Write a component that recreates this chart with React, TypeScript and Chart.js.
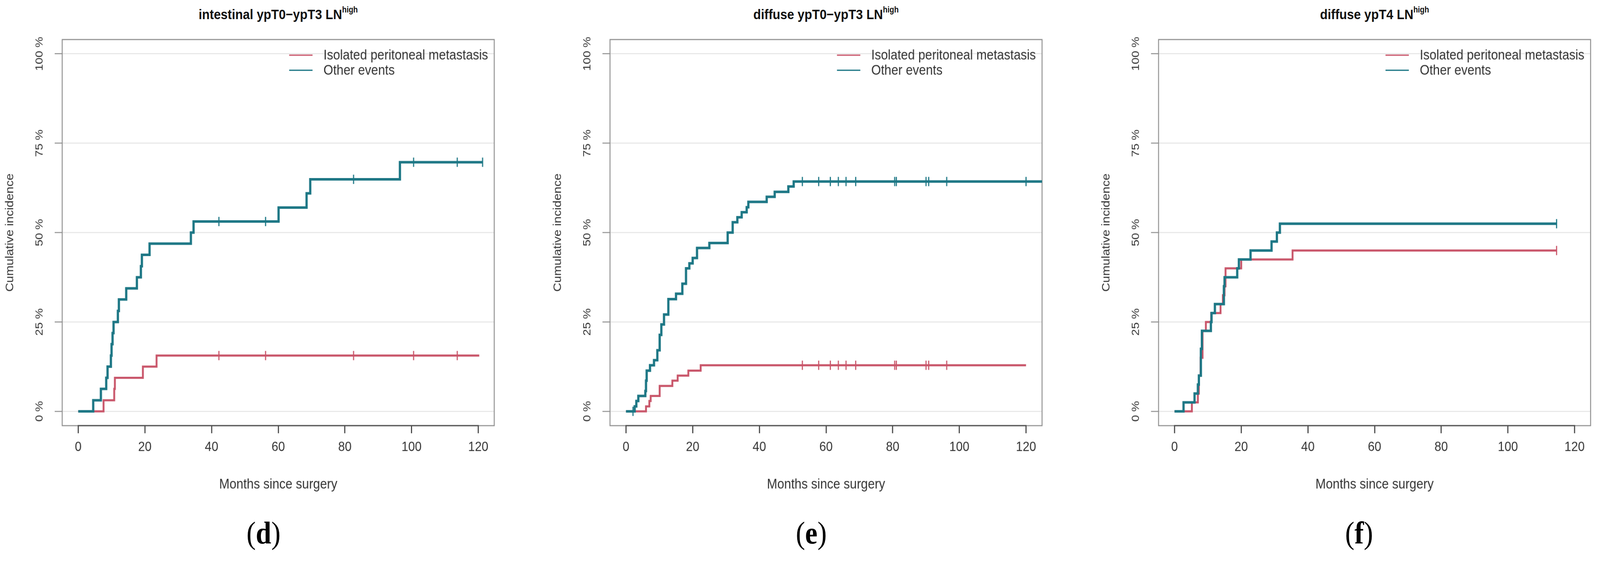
import React, { useEffect, useRef } from "react";
import { Chart, registerables } from "chart.js";

Chart.register(...registerables);

const FONT = '"Liberation Sans", Arial, sans-serif';
const RED = "#C9566A";
const TEAL = "#1D7785";

// axis + labels
const xTicks = [0, 20, 40, 60, 80, 100, 120];
const yTicks = [0, 25, 50, 75, 100];
const seriesNames = ["Isolated peritoneal metastasis", "Other events"];
const panelTitles = ["intestinal ypT0\u2212ypT3 LN", "diffuse ypT0\u2212ypT3 LN", "diffuse ypT4 LN"];
const panelTags = ["d", "e", "f"];
const xTitle = "Months since surgery";
const yTitle = "Cumulative incidence";

// (d) intestinal ypT0-ypT3 LNhigh
const dIpmTimes = [0, 7.6, 10.8, 11.0, 19.4, 23.5, 120.3];
const dIpmValues = [0, 3.1, 6.3, 9.4, 12.5, 15.6, 15.6];
const dIpmCensor = [42.2, 56.2, 82.6, 100.6, 113.7];
const dOtherTimes = [0, 4.5, 6.8, 8.4, 8.8, 9.8, 10.0, 10.3, 10.6, 11.9, 12.2, 14.4, 17.6, 18.8, 19.1, 21.4, 33.8, 34.6, 60.1, 68.5, 69.6, 96.5, 121.3];
const dOtherValues = [0, 3.1, 6.3, 9.4, 12.5, 15.6, 18.8, 21.9, 25.0, 28.1, 31.3, 34.4, 37.5, 40.6, 43.8, 46.9, 50.0, 53.1, 57.0, 61.0, 64.9, 69.7, 69.7];
const dOtherCensor = [42.2, 56.2, 82.6, 100.6, 113.7, 121.3];

// (e) diffuse ypT0-ypT3 LNhigh
const eIpmTimes = [0, 6.0, 7.0, 7.4, 10.1, 13.9, 15.5, 18.7, 22.4, 120];
const eIpmValues = [0, 1.4, 2.9, 4.3, 7.1, 8.6, 10.0, 11.4, 12.9, 12.9];
const eIpmCensor = [52.9, 57.8, 61.3, 63.7, 66.0, 68.9, 80.6, 81.1, 90.0, 90.8, 96.2];
const eOtherTimes = [0, 2.6, 3.1, 3.7, 5.8, 6.0, 6.2, 7.2, 8.4, 9.4, 10.1, 10.6, 11.4, 12.7, 15.0, 16.9, 18.0, 19.0, 20.0, 21.3, 25.0, 30.5, 32.0, 33.4, 34.7, 36.2, 36.7, 42.2, 44.6, 48.7, 50.3, 124.8];
const eOtherValues = [0, 1.4, 2.9, 4.3, 5.7, 8.6, 11.4, 12.9, 14.3, 17.1, 21.4, 24.3, 27.1, 31.4, 32.9, 35.7, 40.0, 41.4, 42.9, 45.7, 47.1, 50.0, 52.9, 54.3, 55.7, 57.1, 58.6, 60.0, 61.4, 62.9, 64.3, 64.3];
const eOtherCensor = [2.1, 52.9, 57.8, 61.3, 63.7, 66.0, 68.9, 80.6, 81.1, 90.0, 90.8, 96.2, 120.0];

// (f) diffuse ypT4 LNhigh
const fIpmTimes = [0, 5.2, 7.0, 7.3, 7.8, 8.4, 9.4, 11.0, 13.8, 14.5, 15.0, 15.3, 20.0, 35.4, 114.6];
const fIpmValues = [0, 2.5, 5.0, 10.0, 15.0, 22.5, 25.0, 27.5, 30.0, 32.5, 35.0, 40.0, 42.5, 45.0, 45.0];
const fIpmCensor = [114.6];
const fOtherTimes = [0, 2.7, 6.0, 7.0, 7.3, 7.9, 8.2, 10.9, 11.1, 12.1, 14.8, 15.0, 18.8, 19.3, 22.8, 29.1, 30.7, 31.6, 114.6];
const fOtherValues = [0, 2.5, 5.0, 7.5, 10.0, 17.5, 22.5, 25.0, 27.5, 30.0, 35.0, 37.5, 40.0, 42.5, 45.0, 47.5, 50.0, 52.5, 52.5];
const fOtherCensor = [114.6];

const panels = [
  { ipmTimes: dIpmTimes, ipmValues: dIpmValues, ipmCensor: dIpmCensor, otherTimes: dOtherTimes, otherValues: dOtherValues, otherCensor: dOtherCensor },
  { ipmTimes: eIpmTimes, ipmValues: eIpmValues, ipmCensor: eIpmCensor, otherTimes: eOtherTimes, otherValues: eOtherValues, otherCensor: eOtherCensor },
  { ipmTimes: fIpmTimes, ipmValues: fIpmValues, ipmCensor: fIpmCensor, otherTimes: fOtherTimes, otherValues: fOtherValues, otherCensor: fOtherCensor },
];

// layout (page px)
const PAGE_W = 4244;
const PAGE_H = 1460;
const BOX_LEFTS = [165, 1618, 3073];
const BOX_W = 1146;
const Y_AXIS_W = 165;
const CANVAS_W = 1331;
// the source plots are a bit taller than wide, so the canvas is stretched vertically
const K = 1.12;
const CANVAS_H = 1170; // internal px, shown at CANVAS_H * K
const TAG_CENTERS = [699, 2152, 3605];

const steps = (t: number[], v: number[]) => t.map((x, i) => ({ x, y: v[i] }));

const valueAt = (t: number[], v: number[], x: number) => {
  let y = v[0];
  t.forEach((ti, i) => {
    if (ti <= x) y = v[i];
  });
  return y;
};

const framePlugin = {
  id: "frame",
  beforeDatasetsDraw(chart: any) {
    const { ctx, chartArea: a, scales } = chart;
    ctx.save();
    ctx.strokeStyle = "#8e8e8e";
    ctx.lineWidth = 2.5;
    ctx.strokeRect(a.left, a.top, a.right - a.left, a.bottom - a.top);

    const xs = scales.x;
    ctx.strokeStyle = "#4a4a4a";
    ctx.lineWidth = 2.8;
    ctx.beginPath();
    ctx.moveTo(xs.getPixelForValue(xTicks[0]) - 1.5, a.bottom);
    ctx.lineTo(xs.getPixelForValue(xTicks[xTicks.length - 1]) + 1.5, a.bottom);
    ctx.stroke();

    // y tick labels, turned like R's default
    const ys = scales.y;
    ctx.fillStyle = "#333";
    ctx.font = `28.5px ${FONT}`;
    ctx.textAlign = "center";
    ctx.textBaseline = "middle";
    yTicks.forEach((v) => {
      ctx.save();
      ctx.translate(a.left - 60, ys.getPixelForValue(v));
      ctx.rotate(-Math.PI / 2);
      ctx.fillText(`${v} %`, 0, 0);
      ctx.restore();
    });
    ctx.restore();
  },
  afterDraw(chart: any) {
    const { ctx, chartArea: a } = chart;
    ctx.save();
    ctx.font = `33px ${FONT}`;
    ctx.textBaseline = "middle";
    ctx.textAlign = "left";
    [RED, TEAL].forEach((c, i) => {
      const y = a.top + 37 + i * 35.7;
      ctx.strokeStyle = c;
      ctx.lineWidth = 3;
      ctx.beginPath();
      ctx.moveTo(a.left + 602, y);
      ctx.lineTo(a.left + 664, y);
      ctx.stroke();
      ctx.fillStyle = "#333";
      ctx.fillText(seriesNames[i], a.left + 693, y + 1);
    });
    ctx.restore();
  },
};

type PanelData = (typeof panels)[number];

const Panel = ({ data, index }: { data: PanelData; index: number }) => {
  const canvasRef = useRef<HTMLCanvasElement | null>(null);

  useEffect(() => {
    const ctx = canvasRef.current?.getContext("2d");
    if (!ctx) return;

    const censorPts = (c: number[], t: number[], v: number[]) => c.map((x) => ({ x, y: valueAt(t, v, x) }));

    const chart = new Chart(ctx, {
      type: "line",
      data: {
        datasets: [
          {
            label: seriesNames[0],
            data: steps(data.ipmTimes, data.ipmValues),
            borderColor: RED,
            borderWidth: 5,
            stepped: "before",
            pointRadius: 0,
            fill: false,
            order: 3,
          },
          {
            label: seriesNames[1],
            data: steps(data.otherTimes, data.otherValues),
            borderColor: TEAL,
            borderWidth: 6,
            stepped: "before",
            pointRadius: 0,
            fill: false,
            order: 2,
          },
          {
            label: "censored ipm",
            data: censorPts(data.ipmCensor, data.ipmTimes, data.ipmValues),
            showLine: false,
            pointStyle: "line",
            pointRotation: 90,
            pointRadius: 11,
            pointBorderWidth: 3,
            pointBorderColor: RED,
            pointBackgroundColor: RED,
            order: 1,
          },
          {
            label: "censored other",
            data: censorPts(data.otherCensor, data.otherTimes, data.otherValues),
            showLine: false,
            pointStyle: "line",
            pointRotation: 90,
            pointRadius: 11,
            pointBorderWidth: 3,
            pointBorderColor: TEAL,
            pointBackgroundColor: TEAL,
            order: 0,
          },
        ],
      },
      options: {
        animation: false,
        responsive: false,
        events: [],
        layout: { padding: { left: 0, right: CANVAS_W - Y_AXIS_W - BOX_W, top: 105 / K, bottom: 0 } },
        plugins: { legend: { display: false }, tooltip: { enabled: false } },
        scales: {
          x: {
            type: "linear",
            min: -4.8,
            max: 124.8,
            afterFit: (s: any) => {
              s.height = CANVAS_H - 1130 / K;
            },
            afterBuildTicks: (s: any) => {
              s.ticks = xTicks.map((value) => ({ value }));
            },
            grid: { drawOnChartArea: false, drawTicks: true, tickLength: 18, tickColor: "#4a4a4a", lineWidth: 3 },
            border: { display: false },
            ticks: { padding: 14, maxRotation: 0, color: "#333", font: { family: FONT, size: 32 } },
            title: { display: true, text: xTitle, color: "#333", font: { family: FONT, size: 33 }, padding: { top: 0, bottom: 1 } },
          },
          y: {
            type: "linear",
            min: -4,
            max: 104,
            afterFit: (s: any) => {
              s.width = Y_AXIS_W;
            },
            afterBuildTicks: (s: any) => {
              s.ticks = yTicks.map((value) => ({ value }));
            },
            grid: { color: "#e4e4e4", lineWidth: 2.3, drawTicks: true, tickLength: 20, tickColor: "#8e8e8e" },
            border: { display: false },
            ticks: { display: false },
            title: { display: true, text: yTitle, color: "#333", font: { family: FONT, size: 29.5 }, padding: { top: 9, bottom: 0 } },
          },
        },
      },
      plugins: [framePlugin],
    } as any);

    return () => {
      chart.destroy();
    };
  }, []);

  return (
    <>
      <div
        style={{
          position: "absolute",
          left: BOX_LEFTS[index],
          width: BOX_W,
          top: 19,
          lineHeight: "38px",
          textAlign: "center",
          whiteSpace: "nowrap",
          font: `bold 33px ${FONT}`,
          color: "#111",
          transform: `scaleY(${K})`,
        }}
      >
        {panelTitles[index]}
        <span style={{ fontSize: "0.6em", position: "relative", top: "-0.75em" }}>high</span>
      </div>
      <canvas
        ref={canvasRef}
        width={CANVAS_W}
        height={CANVAS_H}
        style={{ position: "absolute", left: BOX_LEFTS[index] - Y_AXIS_W, top: 0, width: CANVAS_W, height: CANVAS_H * K }}
      />
      <div
        style={{
          position: "absolute",
          left: TAG_CENTERS[index] - 100,
          width: 200,
          top: 1372,
          lineHeight: "74px",
          textAlign: "center",
          font: `74px "Liberation Serif", "Times New Roman", serif`,
          color: "#000",
          transform: "scaleY(1.12)",
        }}
      >
        (<b>{panelTags[index]}</b>)
      </div>
    </>
  );
};

export default function App() {
  // fit the 4244-wide figure into whatever CSS width the window really has
  const fit = typeof window !== "undefined" && window.innerWidth > 0 ? Math.min(1, window.innerWidth / PAGE_W) : 1;

  return (
    <div
      style={{
        position: "absolute",
        left: 0,
        top: 0,
        width: PAGE_W,
        height: PAGE_H,
        background: "#fff",
        overflow: "hidden",
        transform: `scale(${fit})`,
        transformOrigin: "0 0",
      }}
    >
      {panels.map((p, i) => (
        <Panel key={i} data={p} index={i} />
      ))}
    </div>
  );
}
